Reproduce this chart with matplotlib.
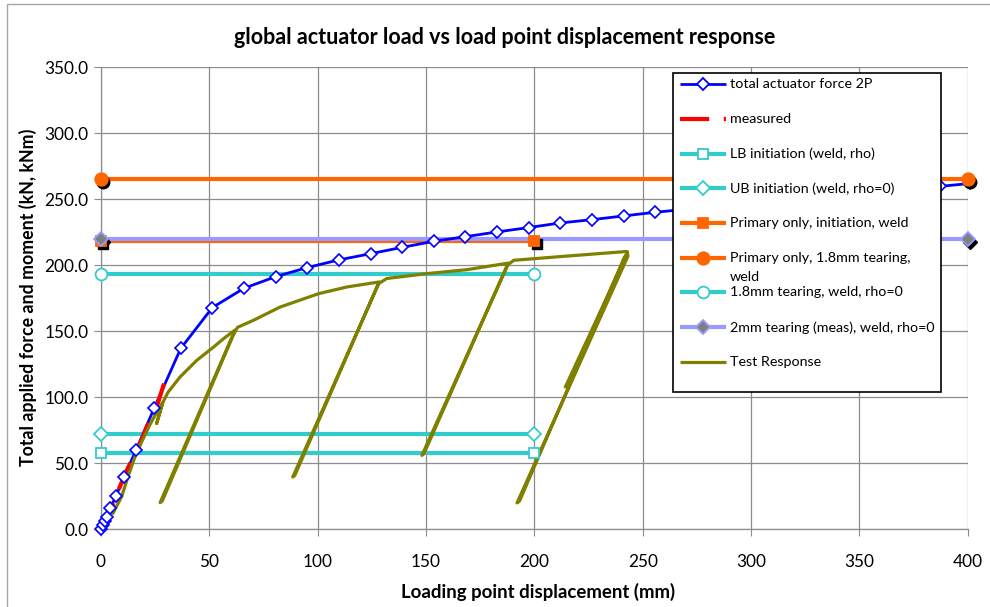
import matplotlib
matplotlib.use("Agg")
import matplotlib.pyplot as plt
import numpy as np
from matplotlib.lines import Line2D
from matplotlib.patches import Rectangle
from matplotlib.transforms import offset_copy
from matplotlib.ticker import FormatStrFormatter

plt.rcParams["font.family"] = ["Lato", "DejaVu Sans"]

# total actuator force 2P (FE prediction)
force_x = [0, 1.1, 1.8, 2.9, 4.2, 6.9, 10.5, 16.3, 24.6, 36.8, 51.4, 66.0, 80.6,
           95.2, 109.8, 124.4, 139.0, 153.6, 168.2, 182.8, 197.4, 212.0, 226.6,
           241.2, 255.8, 270.4, 285.0, 299.6, 314.2, 328.8, 343.4, 358.0, 372.6,
           387.2, 401.0]
force_y = [0, 3, 6, 9.3, 16, 25, 39.4, 60.4, 92, 137, 168, 182.6, 191.4,
           198.3, 204.1, 208.8, 213.6, 218.2, 221.7, 225.3, 228.6, 232.1, 234.6,
           237.4, 240.2, 242.5, 244.8, 247.1, 249.3, 251.4, 253.5, 255.5, 257.6,
           259.8, 262.0]

# measured initial stiffness
meas_x = [0, 4, 8, 12, 17.3, 21.1, 25.7, 29.1]
meas_y = [0, 13, 29.5, 45, 62.3, 77.5, 92.7, 110.4]

# limit load estimates
lb_init_x, lb_init_y = [0, 200], [57.7, 57.7]
ub_init_x, ub_init_y = [0, 200], [72.2, 72.2]
prim_init_x, prim_init_y = [0, 200], [218.3, 218.3]
prim_tear_x, prim_tear_y = [0, 400], [265.2, 265.2]
tear18_x, tear18_y = [0, 200], [193.2, 193.2]
tear2_x, tear2_y = [0, 400], [219.8, 219.8]

# test response with unload/reload cycles
test_x = [5.5, 9.6, 12.5, 15.7, 19.0, 22.5, 25.5, 28.5, 25.7, 28.5,
          31.0, 36.5, 44.2, 51.9, 57.0, 61.9,
          27.3, 28.3, 61.0, 63.0,
          70.3, 82.7, 100.4, 113.5, 128.5,
          88.5, 89.5, 128.0, 131.9,
          150.4, 168.9, 188.1,
          148.1, 149.1, 187.5, 190.5,
          213.5, 242.8, 243.2,
          192.0, 193.2, 241.5, 243.0, 214.3]
test_y = [12, 25, 40, 55, 67, 79, 88, 96, 80.3, 96,
          104, 115.4, 128, 138, 145, 151,
          20.2, 21.5, 147, 153,
          158.3, 168.4, 178.5, 183.6, 187.4,
          39.6, 41, 186, 190,
          193.7, 196.7, 201.7,
          56, 57.5, 200, 203.8,
          206.8, 210.5, 207,
          20, 21.5, 206, 209.5, 107.8]

x_ticks = [0, 50, 100, 150, 200, 250, 300, 350, 400]
y_ticks = [0, 50, 100, 150, 200, 250, 300, 350]

BLUE = "#0000FF"
RED = "#FF0000"
CYAN = "#33CCCC"
ORANGE = "#FF6600"
LAVENDER = "#9999FF"
GREY = "#808080"
OLIVE = "#808000"
GRID = "#8C8C8C"

fig = plt.figure(figsize=(9.9, 6.07), dpi=100)
ax = fig.add_axes([0.1020, 0.1280, 0.8755, 0.7611])
ax.set_xlim(0, 400)
ax.set_ylim(0, 350)
ax.set_xticks(x_ticks)
ax.set_yticks(y_ticks)
ax.yaxis.set_major_formatter(FormatStrFormatter("%.1f"))
ax.grid(True, color=GRID, lw=0.9)
ax.set_axisbelow(True)
for side in ["top", "right"]:
    ax.spines[side].set_visible(False)
for side in ["left", "bottom"]:
    ax.spines[side].set_color(GRID)
    ax.spines[side].set_linewidth(0.9)
ax.tick_params(axis="both", direction="out", length=5, color=GRID, labelsize=12.4)
ax.tick_params(axis="x", pad=13)
ax.tick_params(axis="y", pad=4)

# titles sit on the whole chart area, not on the plot box
fig.text(0.510, 0.939, "global actuator load vs load point displacement response",
         fontsize=15.5, fontweight="bold", ha="center", va="center")
fig.text(0.544, 0.0247, "Loading point displacement (mm)",
         fontsize=13.4, fontweight="bold", ha="center", va="center")
fig.text(0.0283, 0.511, "Total applied force and moment (kN, kNm)",
         fontsize=12.8, fontweight="bold", ha="center", va="center", rotation=90)

shadow = offset_copy(ax.transData, fig=fig, x=2.5, y=-2.5, units="dots")

# horizontal reference levels: (x, y, colour, marker, size, face, edge, shadow)
levels = [
    (lb_init_x, lb_init_y, CYAN, "s", 7, "white", CYAN, False),
    (ub_init_x, ub_init_y, CYAN, "D", 7, "white", CYAN, False),
    (prim_init_x, prim_init_y, ORANGE, "s", 7.5, ORANGE, ORANGE, True),
    (prim_tear_x, prim_tear_y, ORANGE, "o", 9, ORANGE, ORANGE, True),
    (tear18_x, tear18_y, CYAN, "o", 8.5, "white", CYAN, False),
    (tear2_x, tear2_y, LAVENDER, "D", 7, GREY, LAVENDER, True),
]
for i, (xs, ys, col, mk, ms, fc, ec, shad) in enumerate(levels):
    ax.plot(xs, ys, color=col, lw=3, zorder=2 + i * 0.01, clip_on=False,
            solid_capstyle="butt")
    if shad:
        ax.plot(xs, ys, ls="none", marker=mk, ms=ms, color="black",
                transform=shadow, zorder=6, clip_on=False)
    ax.plot(xs, ys, ls="none", marker=mk, ms=ms, mfc=fc, mec=ec, mew=1.3,
            zorder=6.5, clip_on=False)

ax.plot(force_x, force_y, color=BLUE, lw=2, zorder=3, clip_on=False)
ax.plot(meas_x, meas_y, color=RED, lw=3, dashes=(7, 3.5), zorder=3.5)
ax.plot(force_x, force_y, ls="none", marker="D", ms=6.3, mfc="white",
        mec=BLUE, mew=1.2, zorder=5, clip_on=False)
ax.plot(test_x, test_y, color=OLIVE, lw=2.3, zorder=4.5,
        solid_joinstyle="round", solid_capstyle="round")

# legend box drawn by hand so the wrapped label keeps the row pitch
ax.add_patch(Rectangle((0.6603, 0.2965), 0.3086, 0.6918, transform=ax.transAxes,
                       facecolor="white", edgecolor="black", lw=1.2,
                       zorder=8, clip_on=False))
entries = [
    ("total actuator force 2P", BLUE, 2, "D", 6.3, "white", BLUE, None),
    ("measured", RED, 3, None, 0, None, None, (7, 3.5)),
    ("LB initiation (weld, rho)", CYAN, 3, "s", 7, "white", CYAN, None),
    ("UB initiation (weld, rho=0)", CYAN, 3, "D", 7, "white", CYAN, None),
    ("Primary only, initiation, weld", ORANGE, 3, "s", 7.5, ORANGE, ORANGE, None),
    ("Primary only, 1.8mm tearing,\nweld", ORANGE, 3, "o", 9, ORANGE, ORANGE, None),
    ("1.8mm tearing, weld, rho=0", CYAN, 3, "o", 8.5, "white", CYAN, None),
    ("2mm tearing (meas), weld, rho=0", LAVENDER, 3, "D", 7, GREY, LAVENDER, None),
    ("Test Response", OLIVE, 2.3, None, 0, None, None, None),
]
row0 = 0.9638
pitch = 0.0752
line_step = 0.0418
for k, (label, col, lw, mk, ms, fc, ec, dash) in enumerate(entries):
    yy = row0 - k * pitch
    h = Line2D([0.6686, 0.7206], [yy, yy], transform=ax.transAxes, color=col,
               lw=lw, zorder=9, clip_on=False, solid_capstyle="butt")
    if dash:
        h.set_dashes(dash)
    ax.add_line(h)
    if mk:
        ax.add_line(Line2D([0.6946], [yy], transform=ax.transAxes, ls="none",
                           marker=mk, ms=ms, mfc=fc, mec=ec, mew=1.3,
                           zorder=9.5, clip_on=False))
    for j, part in enumerate(label.split("\n")):
        ax.text(0.7255, yy - j * line_step, part, transform=ax.transAxes,
                fontsize=10.3, va="center", ha="left", zorder=10)

# outer chart frame
fig.add_artist(Rectangle((0.0071, -0.1), 1.2, 0.9934 + 0.1, transform=fig.transFigure,
                         fill=False, edgecolor="#A6A6A6", lw=1))

fig.savefig("out.png", dpi=100)
